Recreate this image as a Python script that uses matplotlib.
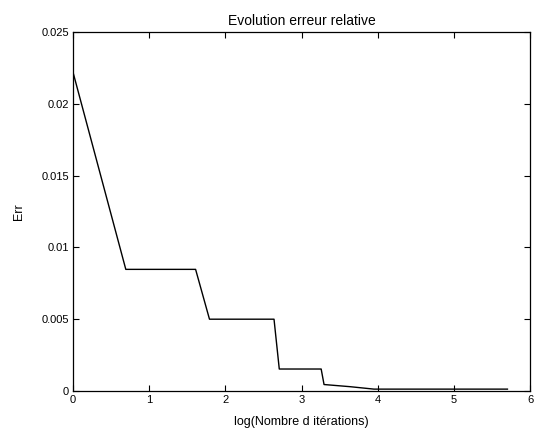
import numpy as np
import matplotlib
matplotlib.use("Agg")
import matplotlib.pyplot as plt

plt.rcParams['font.family'] = ['Liberation Sans', 'DejaVu Sans']

# breakpoints: number of iterations and relative error
iterations = [1, 2, 5, 6, 14, 15, 26, 27, 38, 52, 300]
errors = [0.0222, 0.00847, 0.00847, 0.0050, 0.0050, 0.00153, 0.00153,
          0.00045, 0.00030, 0.00013, 0.00013]
x_ticks = [0, 1, 2, 3, 4, 5, 6]
y_ticks = [0, 0.005, 0.01, 0.015, 0.02, 0.025]
y_tick_labels = ['0', '0.005', '0.01', '0.015', '0.02', '0.025']

fig = plt.figure(figsize=(5.40, 4.29), dpi=100)
ax = fig.add_axes([0.1352, 0.0886, 0.8463, 0.8368])
ax.plot(np.log(iterations), errors, color='black', linewidth=1.0)
ax.set_xlim(0, 6)
ax.set_ylim(0, 0.025)
ax.set_xticks(x_ticks)
ax.set_xticklabels([str(t) for t in x_ticks])
ax.set_yticks(y_ticks)
ax.set_yticklabels(y_tick_labels)
ax.tick_params(direction='in', top=True, right=True, labelsize=8, length=4, width=0.8, pad=3)
for s in ax.spines.values():
    s.set_linewidth(0.9)
ax.set_title('Evolution erreur relative', fontsize=10, pad=5)
ax.set_xlabel("log(Nombre d itérations)", fontsize=9, labelpad=8)
ax.set_ylabel('Err', fontsize=9, labelpad=12)
fig.savefig('out.png', dpi=100)
